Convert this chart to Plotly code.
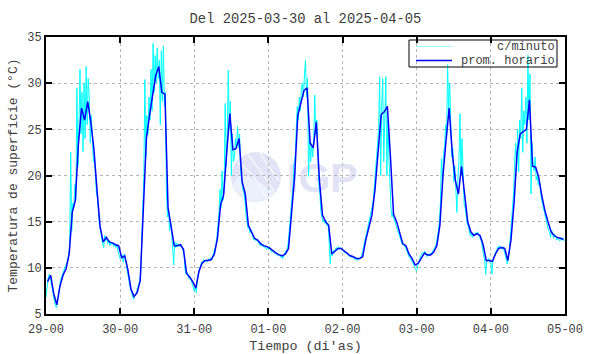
import base64
import pandas as pd
import plotly.graph_objects as go

# ---------------- data ----------------
start_day = "2025-03-29"
end_day = "2025-04-05"
tick_labels = ["29-00", "30-00", "31-00", "01-00", "02-00", "03-00", "04-00", "05-00"]

# hourly averages (prom. horario), one list per day, 24 values each
hourly_29 = [8.5, 9.2, 7.2, 6.0, 8.0, 9.2, 9.9, 11.5, 16.0, 17.3, 23.5, 27.3, 26.0, 28.0, 25.8, 22.9, 18.5, 14.5, 12.8, 13.3, 12.8, 12.7, 12.5, 12.4]
hourly_30 = [11.1, 11.3, 9.8, 7.7, 6.9, 7.3, 8.6, 17.0, 24.0, 26.5, 28.5, 30.8, 31.8, 29.0, 28.8, 16.5, 14.5, 12.4, 12.4, 12.5, 12.0, 9.4, 9.0, 8.5]
hourly_31 = [7.8, 9.6, 10.5, 10.8, 10.8, 10.9, 11.5, 13.2, 16.8, 17.9, 22.5, 26.7, 22.8, 22.9, 24.0, 19.3, 18.0, 14.6, 13.9, 13.2, 13.0, 12.6, 12.4, 12.3]
hourly_01 = [12.1, 11.8, 11.6, 11.4, 11.3, 11.5, 12.1, 16.0, 20.0, 26.5, 28.0, 29.2, 29.5, 23.5, 23.0, 25.8, 19.5, 15.7, 15.0, 14.6, 11.5, 11.8, 12.1, 12.1]
hourly_02 = [11.8, 11.6, 11.3, 11.2, 11.0, 11.0, 11.2, 13.0, 14.5, 15.7, 18.5, 22.5, 26.6, 26.9, 27.5, 22.0, 15.8, 15.0, 13.9, 12.6, 12.4, 11.5, 11.0, 10.3]
hourly_03 = [10.5, 11.1, 11.6, 11.4, 11.4, 11.7, 12.4, 14.6, 20.0, 23.8, 27.3, 22.5, 19.5, 18.0, 21.0, 18.0, 15.0, 13.9, 13.5, 13.7, 13.5, 12.5, 10.8, 10.8]
hourly_04 = [10.7, 11.5, 12.1, 12.2, 12.1, 10.8, 13.0, 17.0, 22.5, 24.5, 24.8, 25.0, 28.2, 21.0, 20.9, 19.8, 17.8, 16.2, 15.0, 13.9, 13.5, 13.3, 13.2, 13.1]

# per-minute series (c/minuto), sampled every 20 minutes, 72 values per day
minute_29 = [6.8, 8.2, 8.8, 9.3, 9.1, 8.4, 7.6, 7.0, 6.5, 6.0, 5.7, 6.2, 7.2, 7.9, 8.6, 9.0, 9.3, 9.5,
             9.7, 10.0, 10.3, 10.8, 11.4, 12.5, 22.5, 14.0, 17.0, 16.5, 19.0, 17.5, 29.5, 21.0, 25.0, 31.5, 24.5, 29.0,
             22.6, 30.0, 24.0, 31.8, 25.5, 30.5, 28.5, 23.5, 26.5, 24.5, 21.5, 22.0, 19.5, 18.0, 17.5, 15.5, 14.5, 14.0,
             13.0, 12.6, 12.2, 13.5, 12.9, 13.3, 12.6, 13.0, 12.4, 12.8, 12.5, 12.7, 12.3, 12.6, 12.2, 12.5, 11.8, 11.4]
minute_30 = [11.0, 11.2, 11.4, 10.6, 11.5, 10.9, 10.2, 9.6, 9.0, 8.2, 7.7, 7.3, 7.0, 6.6, 6.9, 7.1, 7.4, 7.9,
             8.2, 8.6, 9.5, 13.0, 18.5, 20.0, 30.4, 22.0, 26.5, 24.4, 28.5, 26.0, 31.5, 27.0, 34.3, 29.0, 33.0, 30.0,
             33.8, 30.5, 32.5, 25.5, 33.5, 28.0, 34.0, 27.5, 29.0, 18.0, 15.5, 16.5, 14.0, 15.0, 13.8, 12.0, 10.3, 12.8,
             12.2, 12.7, 12.3, 12.5, 12.3, 12.6, 12.2, 11.8, 11.5, 9.8, 9.3, 9.5, 9.1, 8.8, 9.0, 8.6, 8.3, 7.8]
minute_31 = [7.5, 7.9, 7.3, 8.8, 9.5, 9.9, 10.2, 10.6, 10.4, 10.9, 10.7, 10.8, 10.6, 10.9, 11.0, 10.8, 11.1, 10.9,
             11.3, 11.6, 11.9, 12.5, 13.5, 14.5, 16.0, 18.5, 16.5, 20.5, 17.3, 18.8, 27.8, 21.0, 24.5, 31.4, 25.0, 28.0,
             20.0, 24.5, 21.5, 22.0, 24.0, 23.0, 25.3, 23.0, 24.5, 20.5, 19.0, 18.5, 18.2, 17.5, 16.0, 14.8, 14.3, 14.5,
             13.8, 14.2, 13.6, 13.3, 13.0, 13.2, 12.9, 13.1, 12.8, 12.6, 12.4, 12.7, 12.3, 12.5, 12.2, 12.3, 12.0, 12.1]
minute_01 = [12.0, 12.3, 11.9, 11.7, 11.9, 11.6, 11.5, 11.7, 11.4, 11.3, 11.5, 11.2, 11.1, 11.4, 11.0, 11.4, 11.6, 11.8,
             12.0, 12.5, 13.5, 15.0, 16.5, 17.5, 19.0, 21.5, 22.0, 25.0, 27.5, 26.0, 28.5, 27.0, 29.5, 30.0, 28.5, 31.0,
             32.5, 28.5, 30.5, 19.9, 24.0, 21.5, 23.5, 22.0, 24.0, 28.7, 24.5, 26.0, 20.5, 19.0, 18.0, 16.0, 15.5, 15.0,
             15.2, 14.8, 15.1, 14.5, 14.8, 13.0, 10.4, 11.8, 11.3, 11.9, 11.6, 12.0, 12.2, 11.9, 12.3, 12.0, 12.2, 12.1]
minute_02 = [11.9, 11.7, 11.6, 11.8, 11.5, 11.4, 11.3, 11.2, 11.4, 11.1, 11.3, 11.0, 10.9, 11.1, 10.8, 11.0, 10.9, 11.1,
             11.2, 11.5, 12.0, 12.5, 13.2, 13.8, 14.2, 14.7, 15.0, 15.5, 16.0, 16.8, 17.5, 19.0, 20.0, 21.5, 23.5, 25.0,
             30.7, 20.0, 27.5, 30.5, 21.5, 28.0, 30.7, 20.0, 26.0, 22.0, 18.5, 16.5, 15.5, 16.0, 15.2, 15.0, 14.6, 14.2,
             13.9, 13.5, 13.2, 12.8, 12.5, 12.6, 12.4, 12.2, 12.0, 11.6, 11.3, 11.1, 11.0, 10.8, 10.6, 10.4, 10.1, 9.8]
minute_03 = [9.7, 10.3, 10.8, 11.0, 11.3, 11.5, 11.7, 11.5, 11.8, 11.4, 11.2, 11.5, 11.3, 11.6, 11.4, 11.7, 11.9, 12.0,
             12.3, 12.6, 13.2, 14.0, 15.0, 17.0, 21.8, 19.0, 22.5, 23.0, 25.5, 24.0, 32.0, 27.0, 30.0, 24.5, 22.0, 23.0,
             19.3, 21.0, 19.0, 16.0, 19.5, 21.5, 26.7, 20.0, 24.0, 18.5, 17.0, 16.5, 15.5, 14.8, 14.5, 14.0, 13.5, 13.8,
             13.3, 13.7, 13.5, 13.8, 13.6, 13.9, 13.6, 13.4, 13.0, 12.8, 12.0, 11.5, 10.8, 9.3, 10.9, 10.7, 11.0, 10.6]
minute_04 = [10.6, 9.3, 10.8, 11.2, 11.6, 11.8, 12.0, 12.3, 12.1, 12.4, 12.2, 12.0, 12.3, 11.9, 11.5, 10.9, 10.4, 11.2,
             12.0, 13.5, 15.0, 16.5, 18.0, 21.0, 23.5, 20.5, 25.0, 20.4, 26.0, 24.0, 29.5, 22.5, 27.0, 25.5, 28.5, 23.5,
             33.0, 26.0, 31.0, 18.0, 23.5, 21.0, 20.5, 22.0, 19.5, 20.0, 19.0, 19.5, 18.0, 17.5, 17.0, 16.5, 15.8, 15.5,
             15.0, 14.5, 14.0, 13.9, 13.3, 14.1, 13.5, 13.2, 13.6, 13.4, 13.0, 13.3, 13.1, 12.9, 13.3, 13.0, 13.2, 12.9]

hourly_values = hourly_29 + hourly_30 + hourly_31 + hourly_01 + hourly_02 + hourly_03 + hourly_04
minute_values = minute_29 + minute_30 + minute_31 + minute_01 + minute_02 + minute_03 + minute_04

t0 = pd.Timestamp(start_day)
hourly_times = [t0 + pd.Timedelta(minutes=30 + 60 * i) for i in range(len(hourly_values))]
minute_times = [t0 + pd.Timedelta(minutes=20 * i) for i in range(len(minute_values))]
tick_times = list(pd.date_range(start_day, end_day, freq="D"))

FONT = "Liberation Mono, Courier New, monospace"
TXT = "#404040"

fig = go.Figure()
fig.add_trace(go.Scatter(x=minute_times, y=minute_values, mode="lines",
                         line=dict(color="#00ffff", width=1), name="c/minuto", showlegend=False))
fig.add_trace(go.Scatter(x=hourly_times, y=hourly_values, mode="lines",
                         line=dict(color="#0000ff", width=1.5), name="prom. horario", showlegend=False))

# plot area geometry (pixels)
W, H = 590, 354
ML, MR, MT, MB = 46, 25, 37, 40
PW, PH = W - ML - MR, H - MT - MB


def px(x):
    return (x - ML) / PW


def py(y):
    return 1 - (y - MT) / PH


# watermark (IGP logo) as an inline SVG image drawn below the grid
svg = """<svg xmlns='http://www.w3.org/2000/svg' width='130' height='52' viewBox='0 0 130 52'>
<circle cx='26' cy='26' r='25' fill='#e3e3f7'/>
<path d='M3 34 A25 25 0 0 0 45 42 Q30 30 10 22 Z' fill='#ebf0fd'/>
<path d='M8 12 Q26 22 36 48' stroke='#f5f5fc' stroke-width='1.5' fill='none'/>
<path d='M18 4 Q30 18 44 40' stroke='#f5f5fc' stroke-width='1.5' fill='none'/>
<path d='M30 2 Q38 14 49 30' stroke='#f5f5fc' stroke-width='1.5' fill='none'/>
<text x='57' y='41' font-family='Liberation Sans, Arial, sans-serif' font-weight='bold' font-size='41' fill='#e2e2f7'>IGP</text>
</svg>"""
svg_uri = "data:image/svg+xml;base64," + base64.b64encode(svg.encode()).decode()
fig.add_layout_image(dict(source=svg_uri, xref="paper", yref="paper",
                          x=px(230), y=py(151), sizex=130 / PW, sizey=52 / PH,
                          xanchor="left", yanchor="top", sizing="stretch", layer="below"))

# legend drawn by hand (gnuplot style: sample on the left, text right-aligned)
fig.add_shape(type="rect", xref="paper", yref="paper", x0=px(409), x1=px(557), y0=py(67), y1=py(40),
              line=dict(color="black", width=1), fillcolor="rgba(0,0,0,0)", layer="above")
fig.add_shape(type="line", xref="paper", yref="paper", x0=px(416), x1=px(452), y0=py(46.5), y1=py(46.5),
              line=dict(color="#a0ffff", width=1))
fig.add_shape(type="line", xref="paper", yref="paper", x0=px(416), x1=px(452), y0=py(60.5), y1=py(60.5),
              line=dict(color="#0000ff", width=1.5))
for label, yy in (("c/minuto", 46.5), ("prom. horario", 60.5)):
    fig.add_annotation(text=label, xref="paper", yref="paper", x=px(556), y=py(yy),
                       xanchor="right", yanchor="middle", showarrow=False, borderpad=0,
                       font=dict(family=FONT, size=12, color=TXT))

fig.update_layout(
    width=W, height=H,
    margin=dict(l=ML, r=MR, t=MT, b=MB, autoexpand=False),
    paper_bgcolor="white", plot_bgcolor="white",
    showlegend=False,
    font=dict(family=FONT, size=12, color=TXT),
    title=dict(text="Del 2025-03-30 al 2025-04-05", xref="paper", x=0.5, xanchor="center",
               yref="container", y=1 - 18 / H, yanchor="middle",
               font=dict(family=FONT, size=13.8, color=TXT)),
)
fig.update_xaxes(
    type="date", range=[tick_times[0], tick_times[-1]], automargin=False,
    tickmode="array", tickvals=tick_times, ticktext=tick_labels,
    showline=True, linecolor="black", linewidth=2, mirror="ticks",
    ticks="inside", ticklen=6, tickwidth=1.5, tickcolor="black",
    ticklabelstandoff=3,
    showgrid=True, gridcolor="#b4b4b4", griddash="dot", gridwidth=1,
    zeroline=False, tickfont=dict(family=FONT, size=12, color=TXT),
    title=dict(text="Tiempo (di'as)", standoff=4, font=dict(family=FONT, size=13.4, color=TXT)),
)
fig.update_yaxes(
    range=[5, 35], tickmode="linear", tick0=5, dtick=5, automargin=False,
    showline=True, linecolor="black", linewidth=2, mirror="ticks",
    ticks="inside", ticklen=6, tickwidth=1.5, tickcolor="black",
    showgrid=True, gridcolor="#b4b4b4", griddash="dot", gridwidth=1,
    zeroline=False, tickfont=dict(family=FONT, size=12, color=TXT),
    title=dict(text="Temperatura de superficie (°C)", standoff=7, font=dict(family=FONT, size=13, color=TXT)),
)

fig.write_html("out.html")
